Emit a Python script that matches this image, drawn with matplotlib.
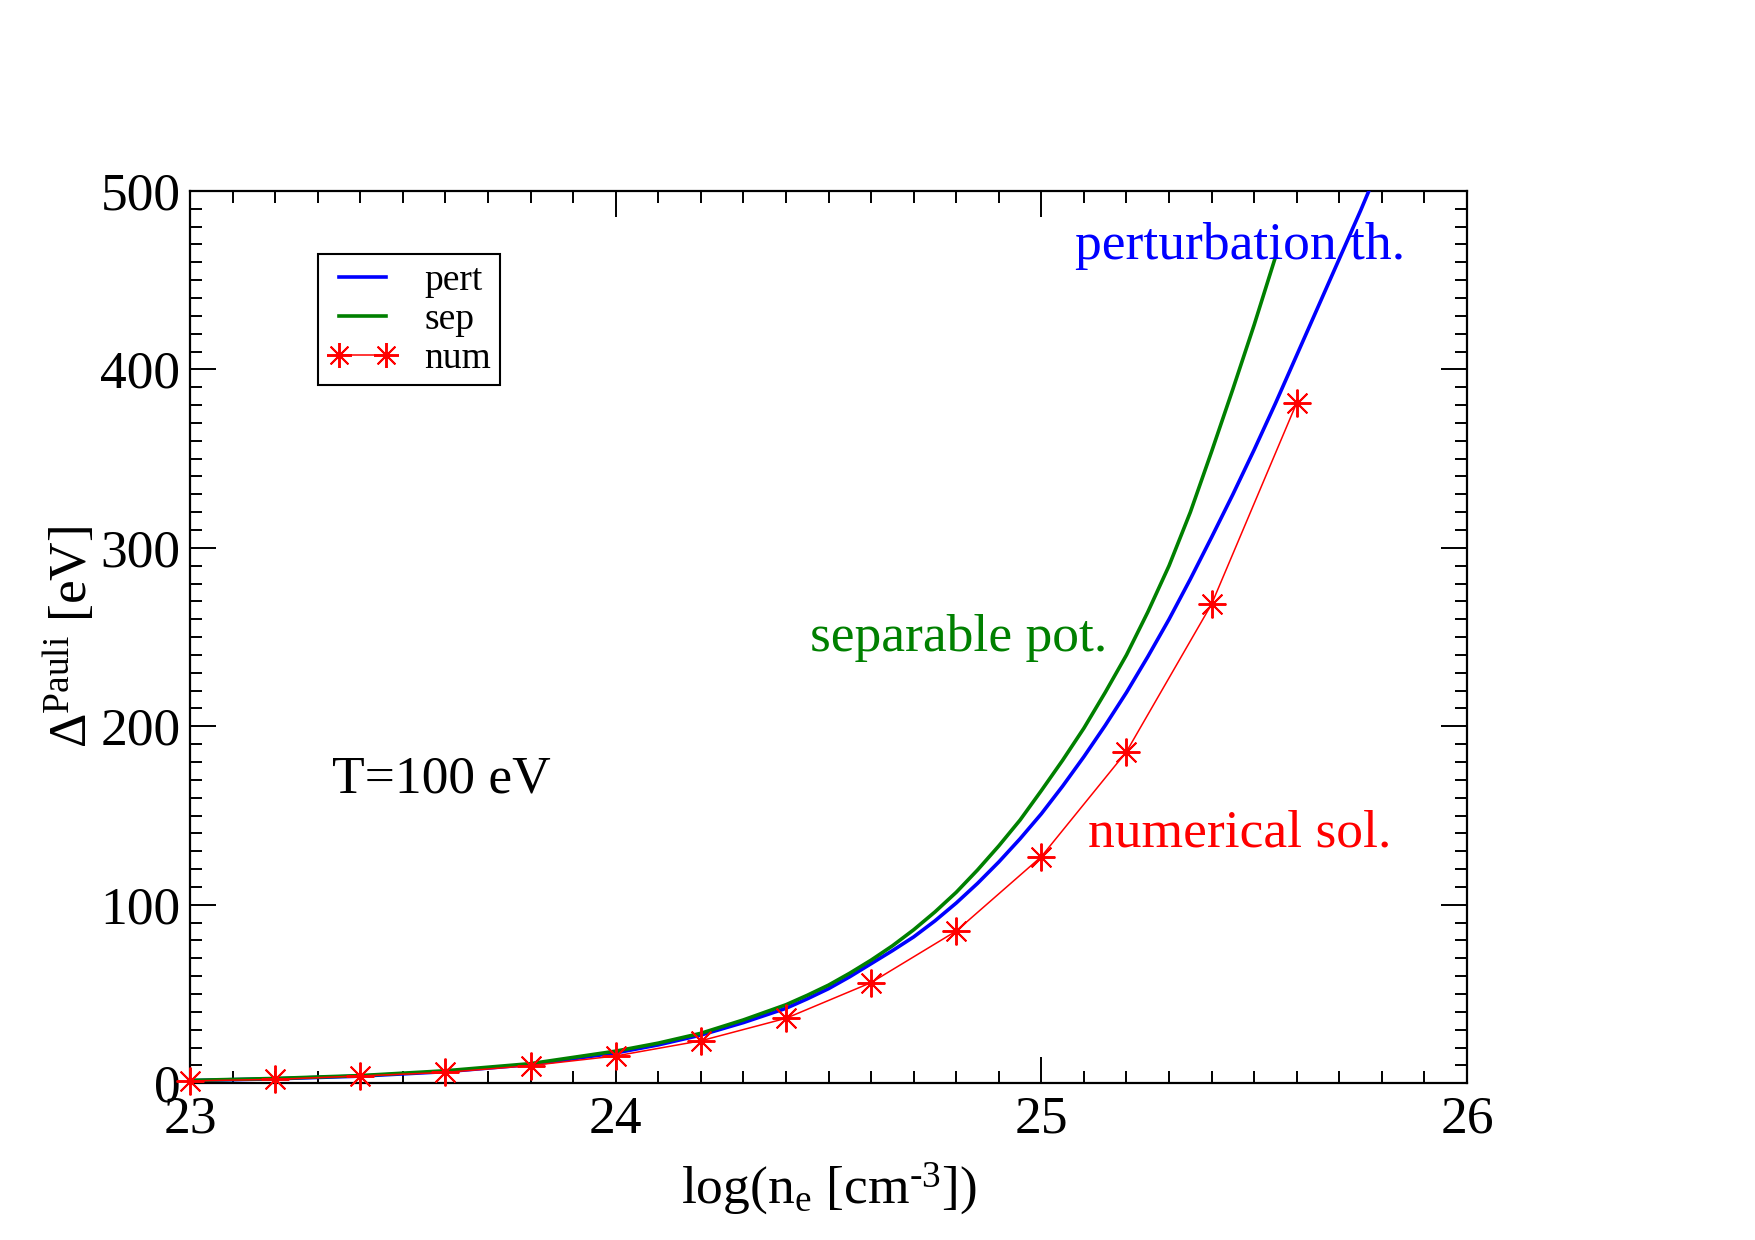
import matplotlib
matplotlib.use("Agg")
import matplotlib.pyplot as plt
from matplotlib.ticker import MultipleLocator

plt.rcParams['font.family'] = ['Liberation Serif', 'DejaVu Serif']
plt.rcParams['mathtext.fontset'] = 'custom'
plt.rcParams['mathtext.rm'] = 'Liberation Serif'
plt.rcParams['mathtext.it'] = 'Liberation Serif:italic'
plt.rcParams['mathtext.bf'] = 'Liberation Serif:bold'

# perturbation theory (blue)
pert_x = [23.0, 23.2, 23.4, 23.6, 23.8, 24.0, 24.1, 24.2, 24.3, 24.4, 24.45, 24.5, 24.55,
          24.6, 24.65, 24.7, 24.75, 24.8, 24.85, 24.9, 24.95, 25.0, 25.05, 25.1, 25.15,
          25.2, 25.25, 25.3, 25.35, 25.4, 25.45, 25.5, 25.55, 25.6, 25.65, 25.7, 25.75, 25.78]
pert_y = [1.5, 2.5, 4.0, 6.5, 10.5, 17, 21.5, 27, 34, 42, 47.3, 53, 59.7,
          67, 74.3, 82, 91, 101, 112, 124, 137, 151, 166.5, 183, 200.5,
          219, 239, 260, 282.5, 306, 330, 355, 381, 408, 435, 462, 489, 506]

# separable potential (green)
sep_x = [23.0, 23.2, 23.4, 23.6, 23.8, 24.0, 24.1, 24.2, 24.3, 24.4, 24.45, 24.5, 24.55,
         24.6, 24.65, 24.7, 24.75, 24.8, 24.85, 24.9, 24.95, 25.0, 25.05, 25.1, 25.15,
         25.2, 25.25, 25.3, 25.35, 25.4, 25.45, 25.5, 25.55]
sep_y = [1.6, 2.7, 4.3, 7.0, 11, 18, 22.5, 28, 35.5, 44, 49.3, 55, 61.7,
         69, 77, 86, 96, 107, 119.5, 133, 147.5, 164, 181, 199, 219,
         240, 264, 290, 320, 354, 389, 425, 463]

# numerical solution (red)
num_x = [23.0, 23.2, 23.4, 23.6, 23.8, 24.0, 24.2, 24.4, 24.6, 24.8, 25.0, 25.2, 25.4, 25.6]
num_y = [1.3, 2.2, 4.1, 6.1, 9.9, 15.3, 23.8, 36.4, 56.4, 85.3, 127, 185.8, 268.5, 381.3]

FS = 38.5

fig = plt.figure(figsize=(17.55, 12.4), dpi=100)
ax = fig.add_axes([0.1083, 0.1264, 0.7276, 0.7196])

ax.plot(pert_x, pert_y, color='#0000ff', lw=2.6, label='pert', zorder=3,
        solid_joinstyle='round')
ax.plot(sep_x, sep_y, color='#008000', lw=2.6, label='sep', zorder=3,
        solid_joinstyle='round')
ax.plot(num_x, num_y, color='#ff0000', lw=1.1, marker=(8, 2, 0), ms=20,
        mew=1.4, label='num', zorder=4, clip_on=False)

ax.set_xlim(23, 26)
ax.set_ylim(0, 500)
ax.xaxis.set_major_locator(MultipleLocator(1))
ax.xaxis.set_minor_locator(MultipleLocator(0.1))
ax.yaxis.set_major_locator(MultipleLocator(100))
ax.yaxis.set_minor_locator(MultipleLocator(10))
ax.tick_params(which='both', direction='in', top=True, right=True, width=1.4)
ax.tick_params(which='major', length=19, labelsize=FS)
ax.tick_params(which='minor', length=8.5)
ax.tick_params(axis='x', which='major', pad=9)
ax.tick_params(axis='y', which='major', pad=7)
for s in ax.spines.values():
    s.set_linewidth(1.6)

ax.set_xlabel(r'log(n$_\mathrm{e}$ [cm$^{\mathrm{\text{-}3}}$])', fontsize=FS, labelpad=12)
ax.set_ylabel(r'$\Delta^\mathrm{Pauli}$ [eV]', fontsize=FS, labelpad=2)

ax.text(23.334, 170, 'T=100 eV', fontsize=FS, color='black', ha='left', va='center')
ax.text(24.457, 249.5, 'separable pot.', fontsize=FS, color='#008000', ha='left', va='center')
ax.text(25.078, 469, 'perturbation th.', fontsize=FS, color='#0000ff', ha='left', va='center', zorder=5)
ax.text(25.109, 139.7, 'numerical sol.', fontsize=FS, color='#ff0000', ha='left', va='center')

leg = ax.legend(loc='upper left', bbox_to_anchor=(0.1814, 0.7952),
                bbox_transform=fig.transFigure, borderaxespad=0,
                fontsize=27, frameon=True, fancybox=False, framealpha=1,
                edgecolor='black', handlelength=1.85, handletextpad=0.72,
                borderpad=0.25, labelspacing=0.12, numpoints=2)
leg.get_frame().set_linewidth(1.5)
for h in leg.legend_handles:
    if h.get_marker() not in (None, 'None', ''):
        h.set_markersize(18)

fig.savefig('out.png', dpi=100)
